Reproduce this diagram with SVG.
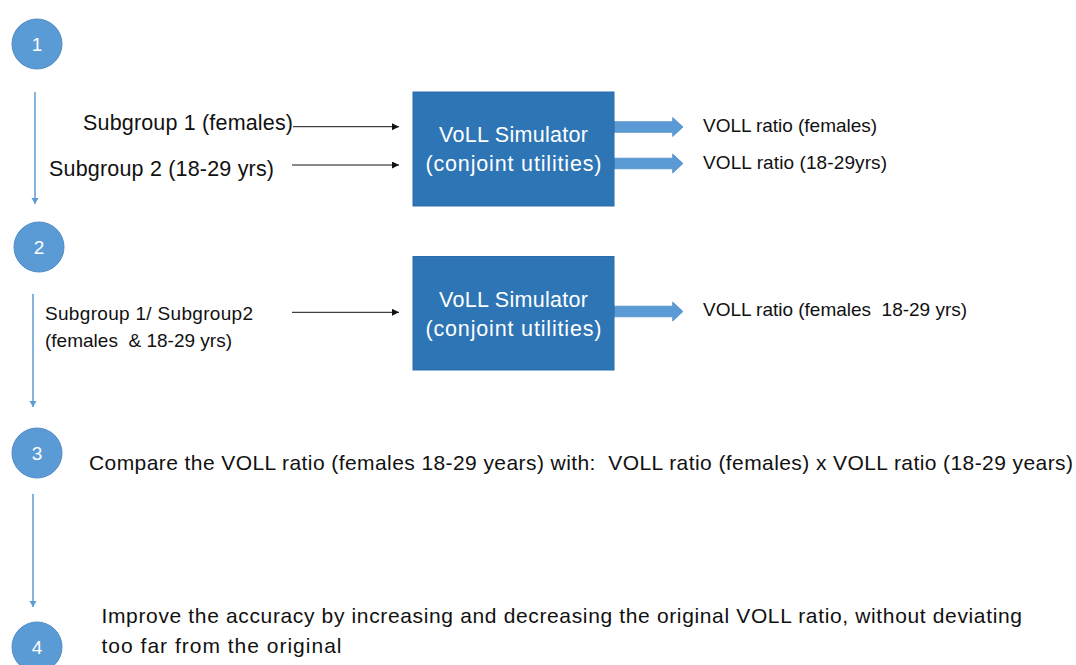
<svg xmlns="http://www.w3.org/2000/svg" xmlns:xlink="http://www.w3.org/1999/xlink" width="1076" height="665" viewBox="0 0 1076 665">
  <style>
    .t { font-family: "Liberation Sans", Arial, sans-serif; fill: #111; }
    .big { font-size: 21.5px; }
    .mid { font-size: 19px; }
    .step { font-size: 21px; }
    .num { font-family: "Liberation Sans", Arial, sans-serif; font-size: 19px; fill: #ffffff; text-anchor: middle; }
    .boxt { font-family: "Liberation Sans", Arial, sans-serif; font-size: 21.5px; fill: #ffffff; text-anchor: middle; }
    .circ { fill: #5B9BD5; stroke: #4F8CC6; stroke-width: 1; }
    .box { fill: #2E75B6; stroke: #2B6CA8; stroke-width: 1; }
    .vline { stroke: #5B9BD5; stroke-width: 1.5; fill: none; }
    .kline { stroke: #111; stroke-width: 1; fill: none; }
    .barrow { fill: #5B9BD5; stroke: #4F8CC6; stroke-width: 0.8; }
  </style>
  <defs>
    <marker id="blueHead" markerUnits="userSpaceOnUse" markerWidth="8" markerHeight="8" refX="6" refY="3.5" orient="auto">
      <path d="M0,0 L6,3.5 L0,7 Z" fill="#5B9BD5"/>
    </marker>
    <marker id="blackHead" markerUnits="userSpaceOnUse" markerWidth="9" markerHeight="8" refX="7" refY="3.5" orient="auto">
      <path d="M0,0 L7,3.5 L0,7 Z" fill="#111"/>
    </marker>
    <path id="blockArrow" d="M0,-5.3 H58.7 V-9.5 L69,0 L58.7,9.5 V5.3 H0 Z"/>
  </defs>

  <g id="connectors">
    <line class="vline" x1="35" y1="92" x2="35" y2="204" marker-end="url(#blueHead)"/>
    <line class="vline" x1="33" y1="294" x2="33" y2="407" marker-end="url(#blueHead)"/>
    <line class="vline" x1="33" y1="494" x2="33" y2="607" marker-end="url(#blueHead)"/>
    <line class="kline" x1="293" y1="126.7" x2="399" y2="126.7" marker-end="url(#blackHead)"/>
    <line class="kline" x1="292" y1="165" x2="399" y2="165" marker-end="url(#blackHead)"/>
    <line class="kline" x1="292" y1="312.3" x2="399" y2="312.3" marker-end="url(#blackHead)"/>
    <use xlink:href="#blockArrow" class="barrow" transform="translate(614,127)"/>
    <use xlink:href="#blockArrow" class="barrow" transform="translate(614,163.5)"/>
    <use xlink:href="#blockArrow" class="barrow" transform="translate(614,311.5)"/>
  </g>

  <g id="step1">
    <circle class="circ" cx="37" cy="44" r="25"/>
    <text class="num" x="37" y="51">1</text>
  </g>
  <g id="step2">
    <circle class="circ" cx="39" cy="247" r="25"/>
    <text class="num" x="39" y="254">2</text>
  </g>
  <g id="step3">
    <circle class="circ" cx="37" cy="453" r="25"/>
    <text class="num" x="37" y="460">3</text>
  </g>
  <g id="step4">
    <circle class="circ" cx="37" cy="647" r="25"/>
    <text class="num" x="37" y="654">4</text>
  </g>

  <g id="subgroup1">
    <text class="t big" x="83" y="130" textLength="210">Subgroup 1 (females)</text>
  </g>
  <g id="subgroup2">
    <text class="t big" x="49" y="175.5" textLength="225">Subgroup 2 (18-29 yrs)</text>
  </g>
  <g id="subgroup12">
    <text class="t mid" x="45" y="320" textLength="208">Subgroup 1/ Subgroup2</text>
    <text class="t mid" x="45" y="346.5" textLength="187" xml:space="preserve">(females  &amp; 18-29 yrs)</text>
  </g>

  <g id="simulator1">
    <rect class="box" x="413" y="92" width="201" height="114"/>
    <text class="boxt" x="513.5" y="142" textLength="149">VoLL Simulator</text>
    <text class="boxt" x="513.5" y="171" textLength="176">(conjoint utilities)</text>
  </g>
  <g id="simulator2">
    <rect class="box" x="413" y="256.5" width="201" height="113.5"/>
    <text class="boxt" x="513.5" y="307" textLength="149">VoLL Simulator</text>
    <text class="boxt" x="513.5" y="336" textLength="176">(conjoint utilities)</text>
  </g>

  <g id="out1">
    <text class="t mid" x="703" y="132" textLength="174">VOLL ratio (females)</text>
  </g>
  <g id="out2">
    <text class="t mid" x="703" y="169" textLength="184">VOLL ratio (18-29yrs)</text>
  </g>
  <g id="out3">
    <text class="t mid" x="703" y="315.5" textLength="264" xml:space="preserve">VOLL ratio (females  18-29 yrs)</text>
  </g>

  <g id="compare">
    <text class="t step" x="89" y="469.5" textLength="984" xml:space="preserve">Compare the VOLL ratio (females 18-29 years) with:  VOLL ratio (females) x VOLL ratio (18-29 years)</text>
  </g>
  <g id="improve">
    <text class="t step" x="101.5" y="623" textLength="920.5">Improve the accuracy by increasing and decreasing the original VOLL ratio, without deviating</text>
    <text class="t step" x="101.5" y="652.5" textLength="240">too far from the original</text>
  </g>
</svg>
